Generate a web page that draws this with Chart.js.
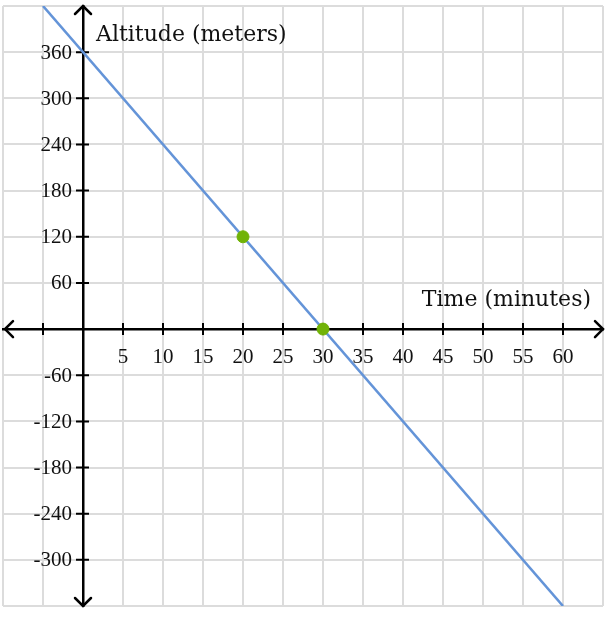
<!DOCTYPE html>
<html>
<head>
<meta charset="utf-8">
<script src="https://cdn.jsdelivr.net/npm/chart.js@4/dist/chart.umd.min.js"></script>
<style>
  html, body { margin: 0; padding: 0; background: #ffffff; }
  canvas { display: block; }
</style>
</head>
<body>
<canvas id="c" width="612" height="617"></canvas>
<script>
// ---- data ----
const lineX = [-5, 60];          // ends of the altitude line (minutes)
const lineY = [420, -360];       // altitude at those ends (meters)
const pointX = [20, 30];         // highlighted points (minutes)
const pointY = [120, 0];         // highlighted points (meters)
const xTickLabels = [5, 10, 15, 20, 25, 30, 35, 40, 45, 50, 55, 60];
const yTickLabels = [-300, -240, -180, -120, -60, 60, 120, 180, 240, 300, 360];
const xMarks = [-5, 5, 10, 15, 20, 25, 30, 35, 40, 45, 50, 55, 60];
const xTitle = 'Time (minutes)';
const yTitle = 'Altitude (meters)';

const tickFont = '21px "Liberation Serif"';
const titleFont = '22px "DejaVu Serif"';

const axesPlugin = {
  id: 'axesDeco',
  beforeDatasetsDraw(chart) {
    const { ctx, chartArea: a, scales: { x, y } } = chart;
    const x0 = x.getPixelForValue(0);
    const y0 = y.getPixelForValue(0);
    ctx.save();
    ctx.strokeStyle = '#000';
    ctx.lineWidth = 2;
    ctx.beginPath();
    xMarks.forEach(v => {
      const px = x.getPixelForValue(v);
      ctx.moveTo(px, y0 - 6); ctx.lineTo(px, y0 + 6);
    });
    yTickLabels.forEach(v => {
      const py = y.getPixelForValue(v);
      ctx.moveTo(x0 - 7, py); ctx.lineTo(x0 + 6, py);
    });
    ctx.stroke();
    // arrow heads
    ctx.lineWidth = 2.5;
    ctx.lineCap = 'round';
    const s = 8;
    ctx.beginPath();
    ctx.moveTo(a.right - s, y0 - s); ctx.lineTo(a.right, y0); ctx.lineTo(a.right - s, y0 + s);
    ctx.moveTo(a.left + 2 + s, y0 - s); ctx.lineTo(a.left + 2, y0); ctx.lineTo(a.left + 2 + s, y0 + s);
    ctx.moveTo(x0 - s, a.top + s); ctx.lineTo(x0, a.top); ctx.lineTo(x0 + s, a.top + s);
    ctx.moveTo(x0 - s, a.bottom - s); ctx.lineTo(x0, a.bottom); ctx.lineTo(x0 + s, a.bottom - s);
    ctx.stroke();
    // tick labels
    ctx.fillStyle = '#111';
    ctx.font = tickFont;
    ctx.textBaseline = 'middle';
    ctx.textAlign = 'center';
    xTickLabels.forEach(v => ctx.fillText(String(v), x.getPixelForValue(v), y0 + 28));
    ctx.textAlign = 'right';
    yTickLabels.forEach(v => ctx.fillText(String(v), x0 - 11, y.getPixelForValue(v) + 1));
    // titles
    ctx.font = titleFont;
    ctx.textBaseline = 'alphabetic';
    ctx.textAlign = 'left';
    ctx.fillText(yTitle, x0 + 13, y.getPixelForValue(420) + 35);
    ctx.textAlign = 'right';
    ctx.fillText(xTitle, x.getPixelForValue(63.5), y0 - 23);
    ctx.restore();
  }
};

new Chart(document.getElementById('c'), {
  type: 'scatter',
  data: {
    datasets: [
      {
        type: 'line',
        data: lineX.map((v, i) => ({ x: v, y: lineY[i] })),
        borderColor: '#6494d8',
        borderWidth: 2.6,
        pointRadius: 0,
        fill: false,
        order: 2
      },
      {
        data: pointX.map((v, i) => ({ x: v, y: pointY[i] })),
        backgroundColor: '#71b307',
        borderColor: '#71b307',
        pointRadius: 6,
        order: 1
      }
    ]
  },
  options: {
    responsive: false,
    animation: false,
    layout: { autoPadding: false, padding: { left: 3, right: 9, top: 6, bottom: 11 } },
    plugins: { legend: { display: false }, tooltip: { enabled: false } },
    scales: {
      x: {
        type: 'linear',
        position: { y: 0 },
        min: -10, max: 65,
        grid: { color: '#dcdcdc', lineWidth: 2, drawTicks: false },
        border: { display: true, color: '#000', width: 2.5 },
        ticks: { stepSize: 5, display: false }
      },
      y: {
        type: 'linear',
        position: { x: 0 },
        min: -360, max: 420,
        grid: { color: '#dcdcdc', lineWidth: 2, drawTicks: false },
        border: { display: true, color: '#000', width: 2.5 },
        ticks: { stepSize: 60, display: false }
      }
    }
  },
  plugins: [axesPlugin]
});
</script>
</body>
</html>
